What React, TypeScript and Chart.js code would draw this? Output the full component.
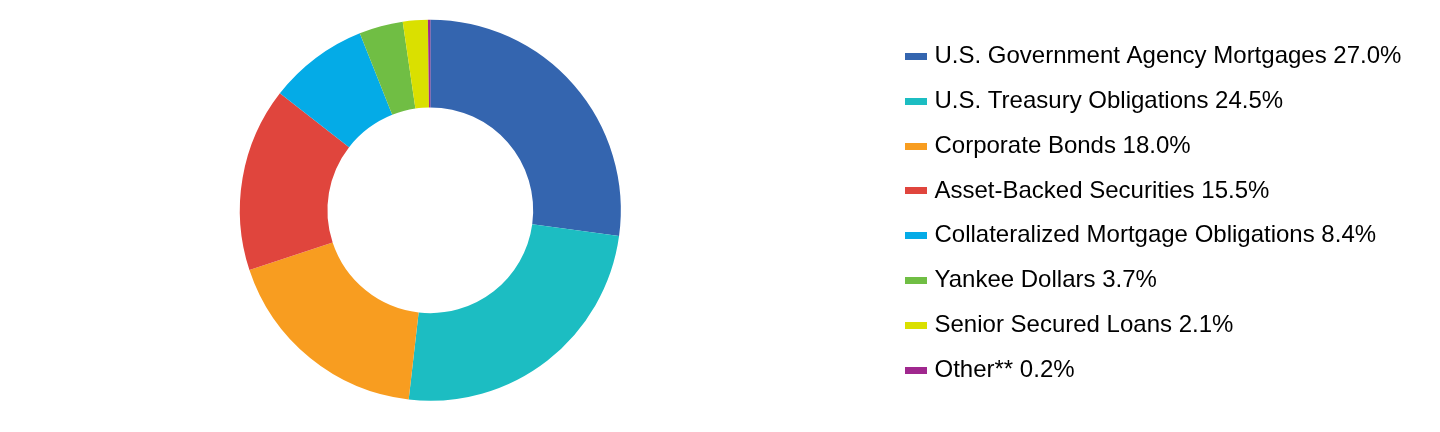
import { useEffect, useRef } from "react";
import { Chart, registerables } from "chart.js";

Chart.register(...registerables);

const categories = [
  "U.S. Government Agency Mortgages",
  "U.S. Treasury Obligations",
  "Corporate Bonds",
  "Asset-Backed Securities",
  "Collateralized Mortgage Obligations",
  "Yankee Dollars",
  "Senior Secured Loans",
  "Other**",
];
const weights = [27.0, 24.5, 18.0, 15.5, 8.4, 3.7, 2.1, 0.2];
const colors = [
  "#3465AF",
  "#1CBDC2",
  "#F89D20",
  "#E0453D",
  "#04ABE7",
  "#70BE44",
  "#DAE000",
  "#A0288E",
];

// flat little bar used as the legend marker
function swatch(color: string) {
  const c = document.createElement("canvas");
  c.width = 22;
  c.height = 7;
  const ctx = c.getContext("2d");
  if (ctx) {
    ctx.fillStyle = color;
    ctx.fillRect(0, 0, 22, 7);
  }
  return c;
}

const App = () => {
  const chartRef = useRef<HTMLCanvasElement | null>(null);

  useEffect(() => {
    const ctx = chartRef.current?.getContext("2d");
    if (!ctx) return;
    const markers = colors.map(swatch);

    const chart = new Chart(ctx, {
      type: "doughnut",
      data: {
        labels: categories,
        datasets: [
          {
            data: weights,
            backgroundColor: colors,
            borderWidth: 0,
            radius: 190.5,
            cutout: "54%",
          },
        ],
      },
      options: {
        animation: false,
        responsive: true,
        maintainAspectRatio: false,
        events: [],
        layout: { padding: { left: 1, right: 28.6, top: 17.25, bottom: 28.75 } },
        plugins: {
          tooltip: { enabled: false },
          legend: {
            position: "right",
            align: "end",
            labels: {
              usePointStyle: true,
              pointStyleWidth: 13,
              padding: 20.875,
              color: "#000",
              font: { family: "'Liberation Sans', Arial, sans-serif", size: 24 },
              generateLabels: () =>
                categories.map((name, i) => ({
                  text: `${name} ${weights[i].toFixed(1)}%`,
                  fillStyle: colors[i],
                  strokeStyle: colors[i],
                  lineWidth: 0,
                  pointStyle: markers[i],
                  fontColor: "#000",
                  hidden: false,
                  index: i,
                })),
            },
          },
        },
      },
    } as any);

    return () => {
      chart.destroy();
    };
  }, []);

  return (
    <div
      style={{
        position: "absolute",
        left: -29,
        top: 0,
        width: 1469,
        height: 432,
      }}
    >
      <canvas ref={chartRef}></canvas>
    </div>
  );
};

export default App;
